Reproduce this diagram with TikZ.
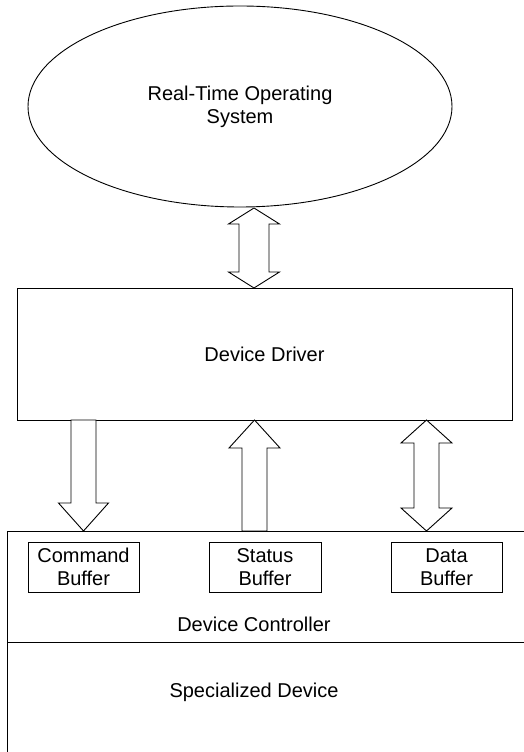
\documentclass[tikz,border=0pt]{standalone}
\usepackage{fontspec}
\setmainfont{Liberation Sans}
\usetikzlibrary{shapes.geometric,calc}
\tikzset{
  ln/.style={line width=0.9pt, draw=black},
  box/.style={ln, rectangle, inner sep=0pt, align=center},
  lbl/.style={inner sep=0pt, align=center},
  arr/.style={ln, fill=white, line join=miter}
}
% double arrow between two named coordinates (top, bottom): head half-width, shaft half-width, head length
\newcommand{\dblarr}[5]{%
  \draw[arr] let \p1=(#1), \p2=(#2) in
    (\p1) -- (\x1+#3pt,\y1-#5pt) -- (\x1+#4pt,\y1-#5pt) -- (\x1+#4pt,\y2+#5pt) -- (\x1+#3pt,\y2+#5pt)
    -- (\x1,\y2) -- (\x1-#3pt,\y2+#5pt) -- (\x1-#4pt,\y2+#5pt) -- (\x1-#4pt,\y1-#5pt) -- (\x1-#3pt,\y1-#5pt) -- cycle;}
% arrow pointing down from #1 to #2
\newcommand{\downarr}[5]{%
  \draw[arr] let \p1=(#1), \p2=(#2) in
    (\x1+#4pt,\y1) -- (\x1+#4pt,\y2+#5pt) -- (\x1+#3pt,\y2+#5pt) -- (\x1,\y2)
    -- (\x1-#3pt,\y2+#5pt) -- (\x1-#4pt,\y2+#5pt) -- (\x1-#4pt,\y1) -- cycle;}
% arrow pointing up from #2 (bottom) to #1 (top)
\newcommand{\uparr}[5]{%
  \draw[arr] let \p1=(#1), \p2=(#2) in
    (\x1,\y1) -- (\x1+#3pt,\y1-#5pt) -- (\x1+#4pt,\y1-#5pt) -- (\x1+#4pt,\y2)
    -- (\x1-#4pt,\y2) -- (\x1-#4pt,\y1-#5pt) -- (\x1-#3pt,\y1-#5pt) -- cycle;}
\begin{document}
\begin{tikzpicture}[x=1pt,y=1pt,font=\fontsize{20}{23}\selectfont]
\useasboundingbox (0,0) rectangle (524,752);
\fill[white] (0,0) rectangle (524,752);

% Real-time OS
\node[ln, ellipse, inner sep=0pt, minimum width=424pt, minimum height=201pt, align=center]
  (os) at (240,645.5) {Real-Time Operating\\System};

% Device driver
\node[box, minimum width=495pt, minimum height=132pt] (drv) at (264.5,398) {Device Driver};

% Device controller (open on the right and bottom)
\coordinate (ctl-tl) at (7,221);
\coordinate (ctl-tr) at (524,221);
\coordinate (div-l) at (7,110);
\coordinate (div-r) at (524,110);
\coordinate (ctl-bl) at (7,0);
\draw[ln] (ctl-tr) -- (ctl-tl) -- (ctl-bl);
\draw[ln] (div-l) -- (div-r);
\node[lbl] (ctl) at (254,128) {Device Controller};
\node[lbl] (dev) at (254,60) {Specialized Device};

% Buffers
\node[box, minimum width=111pt, minimum height=50pt] (cmd) at (83.5,185) {Command\\Buffer};
\node[box, minimum width=112pt, minimum height=50pt] (sts) at (265,185) {Status\\Buffer};
\node[box, minimum width=111pt, minimum height=50pt] (dat) at (446.5,185) {Data\\Buffer};

% Connector end points
\coordinate (a0t) at (254,544);
\coordinate (a0b) at (254,464);
\coordinate (a1t) at (83.5,332);
\coordinate (a1b) at (83.5,221);
\coordinate (a2t) at (254.5,332);
\coordinate (a2b) at (254.5,221);
\coordinate (a3t) at (426.5,332);
\coordinate (a3b) at (426.5,221);

% Connectors
\dblarr{a0t}{a0b}{25.5}{15}{16}
\downarr{a1t}{a1b}{25}{12.5}{28}
\uparr{a2t}{a2b}{25.5}{12.5}{28}
\dblarr{a3t}{a3b}{25.5}{12.5}{23}
\end{tikzpicture}
\end{document}
